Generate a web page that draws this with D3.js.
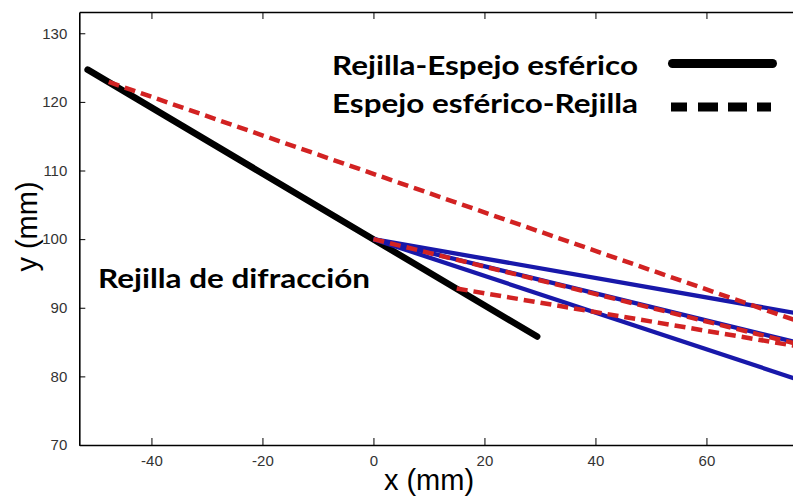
<!DOCTYPE html>
<html>
<head>
<meta charset="utf-8">
<script src="https://cdn.jsdelivr.net/npm/d3@7/dist/d3.min.js"></script>
<style>
  html, body { margin: 0; padding: 0; background: #fff; }
  svg { display: block; }
</style>
</head>
<body>
<svg id="chart" width="793" height="501"></svg>
<script>
// Tick values on both axes
const xTicks = [-40, -20, 0, 20, 40, 60];
const yTicks = [70, 80, 90, 100, 110, 120, 130];

// Diffraction grating (x, y in mm)
const gratingX = [-51.5, 29.5];
const gratingY = [124.7, 85.8];

// Rays grating -> spherical mirror (solid blue), all from the grating centre
const rayStartX = 0;
const rayStartY = 100;
const rayEndX = 77;
const blueRayEndY = [89.1, 84.8, 79.4];

// Rays spherical mirror -> grating (dashed red)
const redRayStartX = [-47.7, 0, 15];
const redRayStartY = [122.9, 100, 92.8];
const redRayEndY = [87.9, 84.6, 84.3];

// Text
const legendLabels = ["Rejilla-Espejo esférico", "Espejo esférico-Rejilla"];
const gratingLabel = "Rejilla de difracción";
const xTitle = "x (mm)";
const yTitle = "y (mm)";

const svg = d3.select("#chart");
const plotLeft = 79.3, plotTop = 12, plotBottom = 445;

const x = d3.scaleLinear().domain([-53, 77]).range([plotLeft, plotLeft + 130 * 5.55]);
const y = d3.scaleLinear().domain([70, 133.1]).range([plotBottom, plotTop]);

svg.append("defs").append("clipPath").attr("id", "plot")
  .append("rect").attr("x", plotLeft).attr("y", plotTop)
  .attr("width", 800 - plotLeft).attr("height", plotBottom - plotTop);

const line = d3.line().x(d => x(d[0])).y(d => y(d[1]));
const plot = svg.append("g").attr("clip-path", "url(#plot)");

// Grating
plot.append("path")
  .attr("d", line(gratingX.map((v, i) => [v, gratingY[i]])))
  .attr("fill", "none").attr("stroke", "#000").attr("stroke-width", 6.5)
  .attr("stroke-linecap", "round");

// Blue solid rays
blueRayEndY.forEach(ye => {
  plot.append("path")
    .attr("d", line([[rayStartX, rayStartY], [rayEndX, ye]]))
    .attr("fill", "none").attr("stroke", "#1818aa").attr("stroke-width", 4.3);
});

// Red dashed rays
redRayEndY.forEach((ye, i) => {
  plot.append("path")
    .attr("d", line([[redRayStartX[i], redRayStartY[i]], [rayEndX, ye]]))
    .attr("fill", "none").attr("stroke", "#d22222").attr("stroke-width", 4.5)
    .attr("stroke-dasharray", "11,6");
});

// Axes frame
const axisG = svg.append("g").attr("font-family", "'Liberation Sans', Arial, sans-serif");
const plainNumber = d => String(d);

axisG.append("g").attr("transform", `translate(0,${plotBottom})`)
  .call(d3.axisBottom(x).tickValues(xTicks).tickSizeInner(-7).tickSizeOuter(0).tickPadding(10).tickFormat(plainNumber))
  .call(g => g.select(".domain").attr("stroke-width", 1.6))
  .call(g => g.selectAll("text").attr("font-size", 15).attr("fill", "#333"));

axisG.append("g").attr("transform", `translate(0,${plotTop})`)
  .call(d3.axisTop(x).tickValues(xTicks).tickSizeInner(-7).tickSizeOuter(0).tickFormat(""))
  .call(g => g.select(".domain").attr("stroke-width", 1.3));

axisG.append("g").attr("transform", `translate(${plotLeft},0)`)
  .call(d3.axisLeft(y).tickValues(yTicks).tickSizeInner(-6).tickSizeOuter(0).tickPadding(12).tickFormat(plainNumber))
  .call(g => g.select(".domain").attr("stroke-width", 1.6))
  .call(g => g.selectAll("text").attr("font-size", 15).attr("fill", "#333"));

// Axis titles
svg.append("text").text(xTitle)
  .attr("x", 429).attr("y", 490).attr("text-anchor", "middle")
  .attr("font-family", "'Liberation Sans', Arial, sans-serif").attr("font-size", 29);

svg.append("text").text(yTitle)
  .attr("transform", "translate(37,226.5) rotate(-90)").attr("text-anchor", "middle")
  .attr("font-family", "'Liberation Sans', Arial, sans-serif").attr("font-size", 29);

// Legend
const legend = svg.append("g").attr("font-family", "Lato, 'Open Sans', sans-serif")
  .attr("font-weight", "bold").attr("font-size", 26);

legend.append("text").text(legendLabels[0]).attr("x", 332).attr("y", 75)
  .attr("textLength", 306).attr("lengthAdjust", "spacingAndGlyphs");
legend.append("text").text(legendLabels[1]).attr("x", 332).attr("y", 113)
  .attr("textLength", 306).attr("lengthAdjust", "spacingAndGlyphs");

legend.append("line").attr("x1", 672.5).attr("x2", 772.5).attr("y1", 63.5).attr("y2", 63.5)
  .attr("stroke", "#000").attr("stroke-width", 9).attr("stroke-linecap", "round");
legend.append("line").attr("x1", 671).attr("x2", 771).attr("y1", 107).attr("y2", 107)
  .attr("stroke", "#000").attr("stroke-width", 9)
  .attr("stroke-dasharray", "16,11,20,10,19,10,14");

svg.append("text").text(gratingLabel).attr("x", 98).attr("y", 288)
  .attr("font-family", "Lato, 'Open Sans', sans-serif").attr("font-weight", "bold")
  .attr("font-size", 26).attr("textLength", 272).attr("lengthAdjust", "spacingAndGlyphs");
</script>
</body>
</html>
